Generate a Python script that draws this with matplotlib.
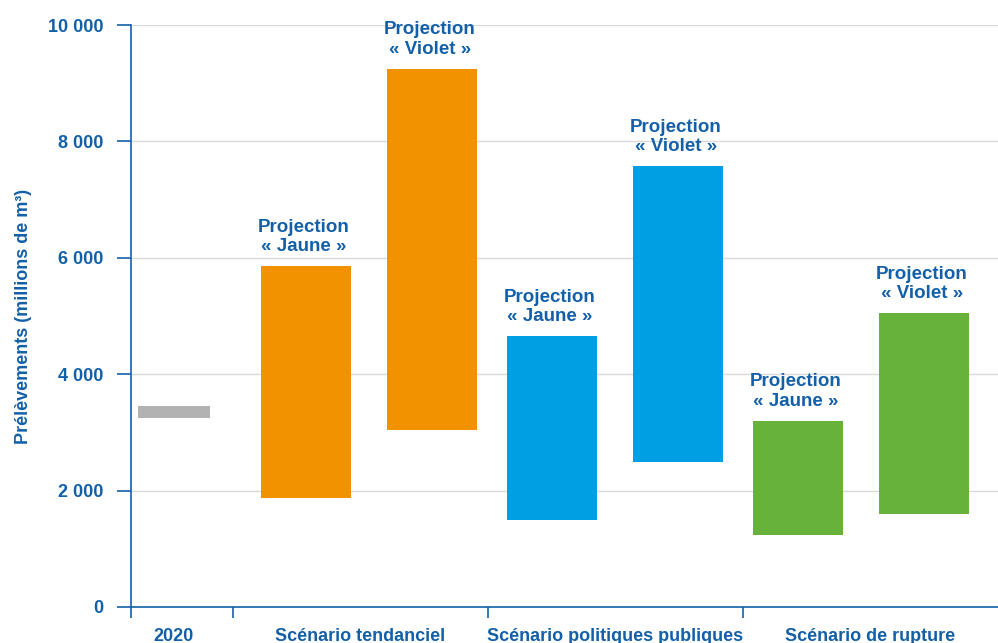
import matplotlib.pyplot as plt
import numpy as np

plt.rcParams['font.family'] = ['Liberation Sans', 'DejaVu Sans']
plt.rcParams['font.weight'] = 'bold'

# prélèvements en millions de m3 : bas et haut de chaque fourchette
base_2020 = [3250, 3450]
groupes = ['2020', 'Scénario tendanciel', 'Scénario politiques publiques', 'Scénario de rupture']
projections = ['Jaune', 'Violet', 'Jaune', 'Violet', 'Jaune', 'Violet']
bas = [1870, 3040, 1500, 2490, 1240, 1600]
haut = [5860, 9250, 4650, 7570, 3200, 5050]
couleurs = ['#F39200', '#F39200', '#009FE3', '#009FE3', '#66B23A', '#66B23A']

bleu = '#1360A8'
gris = '#B2B2B2'

# largeur des groupes sur l'axe x : 2020 plus étroit
largeurs = [0.4, 1, 1, 1]
bornes = np.concatenate([[0], np.cumsum(largeurs)])
centres = (bornes[:-1] + bornes[1:]) / 2
centres[0] = 0.168  # sous la barre grise

# position des barres dans chaque scénario
x_barres = []
for g in range(3):
    for j in range(2):
        x_barres.append(bornes[g + 1] + 0.286 - g * 0.035 + j * 0.495)
x_barres = np.array(x_barres)

fig = plt.figure(figsize=(9.98, 6.43), dpi=100)
ax = fig.add_axes([0.1313, 0.056, 0.8687, 0.905])

ax.bar(0.168, base_2020[1] - base_2020[0], bottom=base_2020[0], width=0.282, color=gris, zorder=3)
ax.bar(x_barres, np.array(haut) - np.array(bas), bottom=bas, width=0.353, color=couleurs, zorder=3)

for x, h, p in zip(x_barres, haut, projections):
    ax.annotate(f'Projection\n« {p} »', (x - 0.01, h), xytext=(0, 8), textcoords='offset points',
                ha='center', va='bottom', fontsize=13.5, fontweight='bold', color=bleu,
                linespacing=1.18)

ax.set_xlim(0, bornes[-1])
ax.set_ylim(0, 10000)

ax.set_yticks(np.arange(0, 10001, 2000))
ax.set_yticklabels([f'{v:,}'.replace(',', ' ') for v in range(0, 10001, 2000)])
ax.yaxis.grid(True, color='#DADADA', linewidth=1, zorder=0)

ax.set_xticks(bornes[:-1])
ax.set_xticklabels([])
ax.set_xticks(centres, minor=True)
ax.set_xticklabels(groupes, minor=True)
ax.tick_params(axis='x', which='major', length=8, width=1.2, color=bleu, direction='out')
ax.tick_params(axis='x', which='minor', length=0, pad=15, labelsize=13, labelcolor=bleu)
ax.tick_params(axis='y', length=10, width=1.2, color=bleu, pad=10, labelsize=13, labelcolor=bleu)

for s in ['top', 'right']:
    ax.spines[s].set_visible(False)
for s in ['left', 'bottom']:
    ax.spines[s].set_color(bleu)
    ax.spines[s].set_linewidth(1.2)

ax.set_ylabel('Prélèvements (millions de m³)', fontsize=13, fontweight='bold',
              color=bleu, labelpad=11)

fig.savefig('out.png', dpi=100)
